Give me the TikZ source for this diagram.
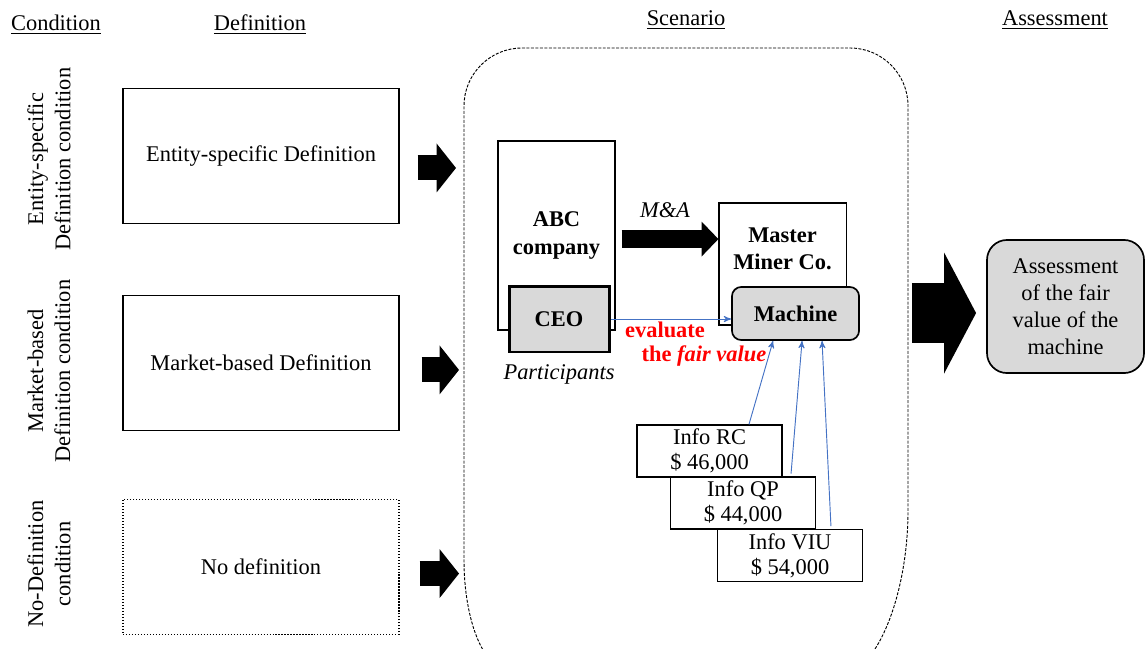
\documentclass[tikz,border=0pt,12pt]{standalone}
\usepackage{fontspec}
\setmainfont{Liberation Serif}
\usepackage{tikz}
\usetikzlibrary{positioning, arrows, arrows.meta}
\tikzset{>=stealth', node distance = 2cm}
\definecolor{boxgray}{RGB}{217,217,217}
\definecolor{linkblue}{RGB}{68,114,196}

\begin{document}
\begin{tikzpicture}[x=0.535pt, y=0.535pt,
  head/.style={inner sep=2pt},
  cond/.style={rotate=90, align=center},
  def_box/.style={rectangle, draw=black, line width=0.6pt, minimum width=147.7pt, minimum height=72.2pt},
  fat_arrow/.style={line width=13.4pt, -{Triangle[width=26.2pt, length=10.4pt, line width=0pt]}},
  firm_box/.style={rectangle, draw=black, line width=0.6pt, fill=white, align=center, font=\bfseries},
  gray_box/.style={rectangle, draw=black, fill=boxgray},
  info_box/.style={rectangle, draw=black, line width=0.6pt, fill=white, minimum width=77.6pt, minimum height=27.8pt, inner sep=1pt, align=center, font=\fontsize{12}{13.4}\selectfont},
  info_arrow/.style={->, draw=linkblue, line width=0.5pt}]

  \useasboundingbox (0,0) rectangle (1146,-648);

  % column heads
  \node[head] (hcond) at (56,-25) {\underline{Condition}};
  \node[head] (hdef) at (260,-25) {\underline{Definition}};
  \node[head] (hscen) at (686,-20) {\underline{Scenario}};
  \node[head] (hass) at (1055,-20) {\underline{Assessment}};

  % conditions and definitions
  \node[cond] (c1) at (49,-159) {Entity-specific\\Definition condition};
  \node[cond] (c2) at (49,-371) {Market-based\\Definition condition};
  \node[cond] (c3) at (49,-564) {No-Definition\\condition};

  \node[def_box] (def1) at (261,-156) {Entity-specific Definition};
  \node[def_box] (def2) at (261,-363) {Market-based Definition};
  \node[def_box, densely dotted] (def3) at (261,-567) {No definition};

  % scenario frame
  \node[minimum width=237.5pt, minimum height=332.8pt, inner sep=0pt, outer sep=0pt] (scen) at (686,-359) {};
  \draw[dash pattern=on 1.6pt off 0.8pt, line width=0.5pt] (522,-48) -- (850,-48)
    .. controls (882,-48) and (908,-74) .. (908,-106) -- (908,-510)
    .. controls (908,-598) and (875,-670) .. (848,-670) -- (509,-670)
    .. controls (484,-670) and (464,-621) .. (464,-560) -- (464,-106)
    .. controls (464,-74) and (490,-48) .. (522,-48) -- cycle;

  \coordinate (a1) at ([yshift=-6.4pt]def1.east);
  \coordinate (a2) at ([yshift=-3.7pt]def2.east);
  \coordinate (a3) at ([yshift=-3.5pt]def3.east);
  \draw[fat_arrow, shorten <=9.6pt, shorten >=4.3pt] (a1) -- (a1 -| scen.west);
  \draw[fat_arrow, shorten <=11.8pt, shorten >=2.7pt] (a2) -- (a2 -| scen.west);
  \draw[fat_arrow, shorten <=10.7pt, shorten >=2.7pt] (a3) -- (a3 -| scen.west);

  % firms
  \node[firm_box, minimum width=62.6pt, minimum height=101.1pt] (abc) at (556.5,-235.5) {ABC\\company};
  \node[gray_box, font=\bfseries, line width=1.6pt, minimum width=53.5pt, minimum height=35.3pt] (ceo) at (559,-319) {CEO};
  \node[below=2pt of ceo, font=\itshape] (part) {Participants};

  \node[firm_box, minimum width=68pt, minimum height=65.3pt] (master) at (782.5,-264) {};
  \node[below=9.5pt of master.north, align=center, font=\bfseries] (mastertxt) {Master\\Miner Co.};
  \node[gray_box, font=\bfseries, rounded corners=5pt, line width=0.9pt, minimum width=68pt, minimum height=28.4pt] (machine) at (795.5,-313.5) {Machine};

  \node[font=\itshape] (ma) at (665,-210) {M\&A};
  \coordinate (mal) at ([yshift=-1.9pt]abc.east);
  \draw[line width=9.6pt, -{Triangle[width=18.7pt, length=9pt, line width=0pt]}, shorten <=3.2pt] (mal) -- (mal -| master.west);

  \draw[info_arrow] (ceo.east) -- (ceo.east -| machine.west);
  \node[text=red, font=\bfseries] (evaltxt) at (665,-330) {evaluate};
  \node[text=red, font=\bfseries] (fairtxt) at (704,-356) {the \textit{fair value}};

  % information
  \node[info_box] (rc) at (709.5,-451) {Info RC\\\$ 46,000};
  \node[info_box] (qp) at (743,-503) {Info QP\\\$ 44,000};
  \node[info_box] (viu) at (790,-555.5) {Info VIU\\\$ 54,000};
  \draw[info_arrow] ([xshift=21.1pt]rc.north) -- ([xshift=-12pt]machine.south);
  \draw[info_arrow] ([xshift=25.7pt, yshift=1.5pt]qp.north) -- ([xshift=3.5pt]machine.south);
  \draw[info_arrow] ([xshift=21.9pt, yshift=1.5pt]viu.north) -- ([xshift=14.2pt]machine.south);

  % assessment
  \node[gray_box, rounded corners=10.7pt, line width=0.9pt, minimum width=84pt, minimum height=71.2pt, align=center] (assess) at (1065.5,-306.5) {Assessment\\of the fair\\value of the\\machine};
  \coordinate (a4) at ([yshift=-3.5pt]assess.west);
  \draw[line width=32.1pt, -{Triangle[width=64.7pt, length=17.1pt, line width=0pt]}, shorten <=2.1pt, shorten >=5.4pt] (a4 -| scen.east) -- (a4);
\end{tikzpicture}
\end{document}
